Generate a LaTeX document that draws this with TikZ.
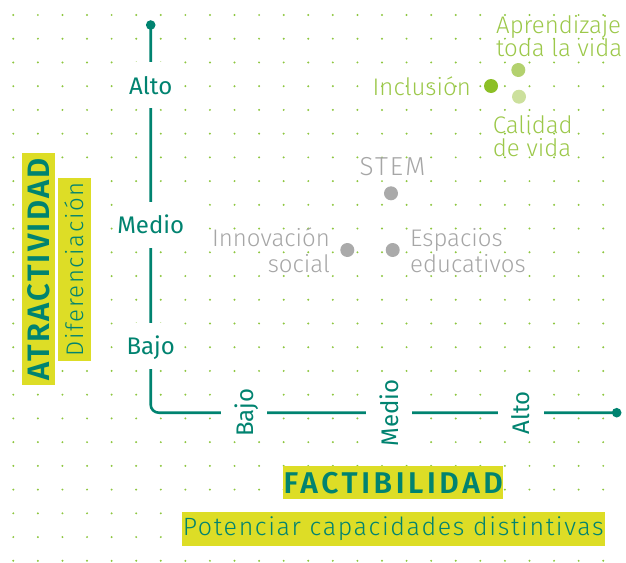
\documentclass[tikz,border=0pt]{standalone}
\usepackage{fontspec}
\setmainfont{Fira Sans}
\IfFontExistsTF{Fira Sans Light}{%
  \newfontfamily\lightf{Fira Sans Light}
  \newfontfamily\lightsp{Fira Sans Light}[LetterSpace=6.5]
  \newfontfamily\lightwide{Fira Sans Light}[LetterSpace=8]
}{%
  \newfontfamily\lightf{Fira Sans}
  \newfontfamily\lightsp{Fira Sans}[LetterSpace=6.5]
  \newfontfamily\lightwide{Fira Sans}[LetterSpace=8]
}
\IfFontExistsTF{Fira Sans SemiBold}{%
  \newfontfamily\boldsp{Fira Sans SemiBold}[LetterSpace=7]
  \newfontfamily\boldwide{Fira Sans SemiBold}[LetterSpace=12]
}{%
  \newfontfamily\boldsp{Fira Sans}[LetterSpace=6,UprightFeatures={FakeBold=0}]
  \newfontfamily\boldwide{Fira Sans}[LetterSpace=10.5]
}
\newfontfamily\regf{Fira Sans}
\definecolor{axteal}{RGB}{0,131,112}
\definecolor{hlyellow}{RGB}{221,221,38}
\definecolor{griddot}{RGB}{141,198,63}
\definecolor{limetext}{RGB}{156,200,74}
\definecolor{dotA}{RGB}{140,191,38}
\definecolor{dotB}{RGB}{179,209,110}
\definecolor{dotC}{RGB}{204,224,157}
\definecolor{graytext}{RGB}{166,166,166}
\definecolor{graydot}{RGB}{170,170,170}
\tikzset{
  axisline/.style={draw=axteal, line width=2.6pt},
  enddot/.style={circle, fill=axteal, inner sep=0pt, minimum size=9.6pt},
  axlab/.style={fill=white, text=axteal, font=\regf\fontsize{24}{28}\selectfont,
     text height=17.5pt, text depth=0pt, minimum height=46pt, inner xsep=3pt},
  hlbox/.style={fill=hlyellow, text=axteal, inner sep=0pt},
  pdot/.style={circle, inner sep=0pt, minimum size=14pt},
  gtext/.style={text=graytext, font=\lightf\fontsize{24}{26}\selectfont, inner sep=0pt},
  ltext/.style={text=limetext, font=\lightf\fontsize{24}{26}\selectfont, inner sep=0pt},
}
\begin{document}
\begin{tikzpicture}[x=1pt,y=-1pt]
\useasboundingbox (0,0) rectangle (626,562);
% dot grid
\foreach \i in {0,...,24}{
  \foreach \j in {0,...,23}{
    \fill[griddot] (13.3+24.58*\i, 15+23.73*\j) circle (1.1);
  }
}
% axes
\node[enddot] (vtop) at (150.7,25) {};
\node[enddot] (hend) at (616.7,412.7) {};
\coordinate (corner) at (150.7,412.7);
\draw[axisline, rounded corners=8] (vtop.center) -- (corner) -- (hend.center);
% vertical axis labels
\node[axlab] (yalto) at (150.7,85.3) {Alto};
\node[axlab] (ymedio) at (150.7,225) {Medio};
\node[axlab] (ybajo) at (150.7,346) {Bajo};
% horizontal axis labels
\node[axlab, rotate=90] (xbajo) at (244.3,412.7) {Bajo};
\node[axlab, rotate=90] (xmedio) at (389.3,412.7) {Medio};
\node[axlab, rotate=90] (xalto) at (520.8,412.7) {Alto};
% highlighted titles
\node[hlbox, rotate=90, minimum width=231.7pt, minimum height=33.3pt,
      font=\boldsp\fontsize{31}{34}\selectfont] (atr) at (38.3,269.2) {ATRACTIVIDAD};
\node[hlbox, rotate=90, minimum width=182.7pt, minimum height=32.7pt,
      font=\lightsp\fontsize{24}{26}\selectfont] (dif) at (74.7,269.3) {Diferenciación};
\node[hlbox, minimum width=220pt, minimum height=33.3pt,
      font=\boldwide\fontsize{30}{34}\selectfont] (fac) at (393.3,482.7) {FACTIBILIDAD};
\node[hlbox, minimum width=423.3pt, minimum height=34pt,
      font=\lightsp\fontsize{25}{28}\selectfont] (pot) at (393.3,528.7) {Potenciar capacidades distintivas};
% green points
\node[pdot, fill=dotA] (inc) at (491,86) {};
\node[pdot, fill=dotB] (apr) at (518.3,70) {};
\node[pdot, fill=dotC] (cal) at (519,96.7) {};
\node[ltext, anchor=base east] (inclab) at (471,95) {Inclusión};
\node[ltext, anchor=base west] (aprlab1) at (496,33.3) {Aprendizaje};
\node[ltext, anchor=base west] (aprlab2) at (496,56.7) {toda la vida};
\node[ltext, anchor=base west] (callab1) at (492.7,133) {Calidad};
\node[ltext, anchor=base west] (callab2) at (492.7,156) {de vida};
% gray points
\node[pdot, fill=graydot] (stem) at (391,193.3) {};
\node[pdot, fill=graydot] (inn) at (347.3,250) {};
\node[pdot, fill=graydot] (esp) at (392.7,250) {};
\node[gtext, anchor=base, font=\lightwide\fontsize{26}{28}\selectfont] (stemlab) at (392.5,175) {STEM};
\node[gtext, anchor=base east] (innlab1) at (330,246.7) {Innovación};
\node[gtext, anchor=base east] (innlab2) at (330,272.7) {social};
\node[gtext, anchor=base west] (esplab1) at (410,246.7) {Espacios};
\node[gtext, anchor=base west] (esplab2) at (410,272.7) {educativos};
\end{tikzpicture}
\end{document}
